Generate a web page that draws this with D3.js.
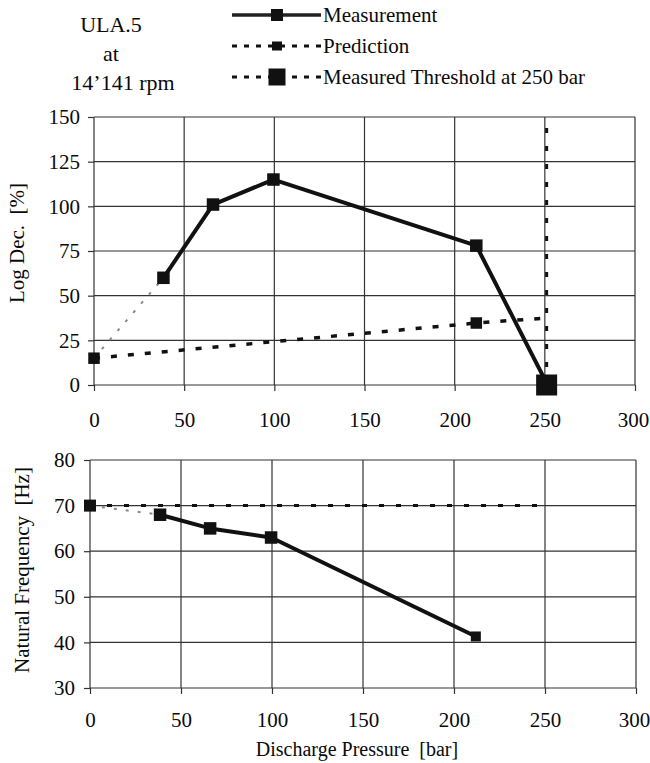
<!DOCTYPE html>
<html><head><meta charset="utf-8">
<script src="https://cdn.jsdelivr.net/npm/d3@7"></script>
<style>
body{margin:0;background:#fff}
svg text{font-family:"Liberation Serif","Times New Roman",Times,serif !important;fill:#0a0a0a}
</style>
</head><body>
<svg id="c" width="650" height="763"></svg>
<script>
// ---- data ----
const pressureTicks = [0, 50, 100, 150, 200, 250, 300];
const logDecTicks = [0, 25, 50, 75, 100, 125, 150];
const freqTicks = [30, 40, 50, 60, 70, 80];

const measPressure = [0, 38.5, 66, 99.5, 212, 251];
const measLogDec = [15, 60, 101, 115, 78, 1];
const predPressure = [0, 212, 251];
const predLogDec = [15, 34.7, 37.5];
const thresholdPressure = [251, 251];
const thresholdLogDec = [0, 150];

const freqMeasPressure = [0, 38.5, 66, 99.5, 212];
const freqMeas = [70, 68, 65, 63, 41.3];
const freqPredPressure = [0, 251];
const freqPred = [70, 70];

const titleLines = ["ULA.5", "at", "14\u2019141 rpm"];
const legendLabels = ["Measurement", "Prediction", "Measured Threshold at 250 bar"];

// ---- drawing ----
const svg = d3.select("#c");
const FS = 21;

function zip(xs, ys) { return xs.map((x, i) => [x, ys[i]]); }

function panel(cfg) {
  const x = d3.scaleLinear().domain([0, 300]).range([cfg.x0, cfg.x1]);
  const y = d3.scaleLinear().domain(cfg.yDomain).range([cfg.yb, cfg.yt]);
  const g = svg.append("g");
  g.selectAll(".hg").data(cfg.yTicks).enter().append("line")
    .attr("x1", cfg.x0).attr("x2", cfg.x1)
    .attr("y1", d => y(d)).attr("y2", d => y(d))
    .attr("stroke", "#333").attr("stroke-width", 1.2);
  g.selectAll(".vg").data(pressureTicks).enter().append("line")
    .attr("x1", d => x(d)).attr("x2", d => x(d))
    .attr("y1", cfg.yt).attr("y2", cfg.yb)
    .attr("stroke", "#333").attr("stroke-width", 1.2);
  const ax = g.append("g").attr("transform", `translate(0,${cfg.yb})`)
    .call(d3.axisBottom(x).tickValues(pressureTicks).tickSize(6).tickPadding(cfg.xPad).tickFormat(d3.format("d")));
  const ay = g.append("g").attr("transform", `translate(${cfg.x0},0)`)
    .call(d3.axisLeft(y).tickValues(cfg.yTicks).tickSize(6).tickPadding(cfg.yPad).tickFormat(d3.format("d")));
  [ax, ay].forEach(a => {
    a.attr("font-family", null);
    a.select(".domain").remove();
    a.selectAll("line").attr("stroke", "#333").attr("stroke-width", 1.2);
    a.selectAll("text").attr("font-size", FS).attr("fill", "#0a0a0a");
  });
  ax.selectAll("text").filter(d => d === 300).attr("dx", -2);
  svg.append("text")
    .attr("transform", `translate(${cfg.titleX},${(cfg.yt + cfg.yb) / 2 + cfg.titleDy}) rotate(-90)`)
    .attr("text-anchor", "middle").attr("font-size", FS)
    .style("white-space", "pre").text(cfg.title);
  return { x, y, g };
}

function squares(g, pts, x, y, size) {
  g.selectAll(null).data(pts).enter().append("rect")
    .attr("x", d => x(d[0]) - size / 2).attr("y", d => y(d[1]) - size / 2)
    .attr("width", size).attr("height", size).attr("fill", "#111");
}

// ---- top panel ----
const topPanel = panel({ x0: 94, x1: 635, yt: 117, yb: 385, yDomain: [0, 150], yTicks: logDecTicks,
  xPad: 21, yPad: 8, title: "Log Dec.  [%]", titleX: 24, titleDy: -8 });
{
  const { x, y, g } = topPanel;
  const line = d3.line().x(d => x(d[0])).y(d => y(d[1]));
  const meas = zip(measPressure, measLogDec);
  const pred = zip(predPressure, predLogDec);
  const thr = zip(thresholdPressure, thresholdLogDec);
  g.append("path").attr("d", line(pred)).attr("fill", "none")
    .attr("stroke", "#111").attr("stroke-width", 3.5).attr("stroke-dasharray", "6,11");
  g.append("path").attr("d", line(thr)).attr("fill", "none")
    .attr("stroke", "#111").attr("stroke-width", 3).attr("stroke-dasharray", "5,13");
  g.append("path").attr("d", line(meas.slice(0, 2))).attr("fill", "none")
    .attr("stroke", "#888").attr("stroke-width", 2).attr("stroke-dasharray", "3,9");
  g.append("path").attr("d", line(meas.slice(1))).attr("fill", "none")
    .attr("stroke", "#111").attr("stroke-width", 4).attr("stroke-linejoin", "round");
  squares(g, meas.slice(1, 5), x, y, 12.5);
  squares(g, pred.slice(0, 2), x, y, 11.5);
  squares(g, [[thresholdPressure[0], thresholdLogDec[0]]], x, y, 21);
}

// ---- bottom panel ----
const botPanel = panel({ x0: 90, x1: 636, yt: 460, yb: 688, yDomain: [30, 80], yTicks: freqTicks,
  xPad: 18, yPad: 9, title: "Natural Frequency  [Hz]", titleX: 29, titleDy: -4 });
{
  const { x, y, g } = botPanel;
  const line = d3.line().x(d => x(d[0])).y(d => y(d[1]));
  const meas = zip(freqMeasPressure, freqMeas);
  const pred = zip(freqPredPressure, freqPred);
  g.append("path").attr("d", line(pred)).attr("fill", "none")
    .attr("stroke", "#111").attr("stroke-width", 3).attr("stroke-dasharray", "5,12");
  g.append("path").attr("d", line(meas.slice(0, 2))).attr("fill", "none")
    .attr("stroke", "#888").attr("stroke-width", 2).attr("stroke-dasharray", "3,9");
  g.append("path").attr("d", line(meas.slice(1))).attr("fill", "none")
    .attr("stroke", "#111").attr("stroke-width", 4).attr("stroke-linejoin", "round");
  squares(g, meas.slice(1, 4), x, y, 12.5);
  squares(g, meas.slice(4), x, y, 10);
  squares(g, pred.slice(0, 1), x, y, 12);
}

svg.append("text").attr("x", 357).attr("y", 756).attr("text-anchor", "middle")
  .attr("font-size", 20).style("white-space", "pre").text("Discharge Pressure  [bar]");

// ---- title block ----
const titleX = [111, 111, 123];
const titleY = [32, 61, 90];
titleLines.forEach((t, i) => {
  svg.append("text").attr("x", titleX[i]).attr("y", titleY[i]).attr("text-anchor", "middle")
    .attr("font-size", 22).text(t);
});

// ---- legend ----
const legY = [15, 46, 77];
const lg = svg.append("g");
lg.append("line").attr("x1", 232).attr("x2", 321).attr("y1", legY[0]).attr("y2", legY[0])
  .attr("stroke", "#222").attr("stroke-width", 3.3);
lg.append("rect").attr("x", 271).attr("y", legY[0] - 6).attr("width", 12).attr("height", 12).attr("fill", "#111");
lg.append("line").attr("x1", 232).attr("x2", 321).attr("y1", legY[1]).attr("y2", legY[1])
  .attr("stroke", "#111").attr("stroke-width", 3).attr("stroke-dasharray", "5,7");
lg.append("rect").attr("x", 272).attr("y", legY[1] - 4.5).attr("width", 10).attr("height", 9).attr("fill", "#111");
lg.append("line").attr("x1", 232).attr("x2", 321).attr("y1", legY[2]).attr("y2", legY[2])
  .attr("stroke", "#111").attr("stroke-width", 3).attr("stroke-dasharray", "5,7");
lg.append("rect").attr("x", 268.5).attr("y", legY[2] - 8.5).attr("width", 17).attr("height", 17).attr("fill", "#111");
legendLabels.forEach((t, i) => {
  lg.append("text").attr("x", 323).attr("y", legY[i]).attr("dy", "0.35em")
    .attr("font-size", FS).text(t);
});
</script>
</body></html>
